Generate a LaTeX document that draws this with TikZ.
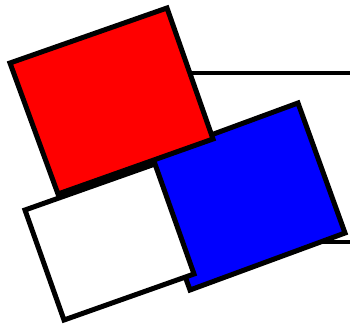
\documentclass[tikz,border=0pt]{standalone}
\begin{document}
\begin{tikzpicture}[x=1pt,y=-1pt,
  card/.style={draw=black,line width=5pt,line join=miter},
  rule/.style={draw=black,line width=4.5pt}]
\useasboundingbox (0,0) rectangle (350,329);
\coordinate (r1) at (190,73);
\coordinate (r2) at (350,73);
\coordinate (b1) at (300,242);
\coordinate (b2) at (350,242);
\draw[rule] (r1) -- (r2);
\draw[rule] (b1) -- (b2);
\draw[card,fill=blue] (143,160) -- (298,103) -- (345,233) -- (190,290) -- cycle;
\draw[card,fill=red] (10,63) -- (167,8) -- (213,139) -- (58,194) -- cycle;
\draw[card,fill=white] (25,210) -- (155,164) -- (194,274) -- (64,320) -- cycle;
\end{tikzpicture}
\end{document}
